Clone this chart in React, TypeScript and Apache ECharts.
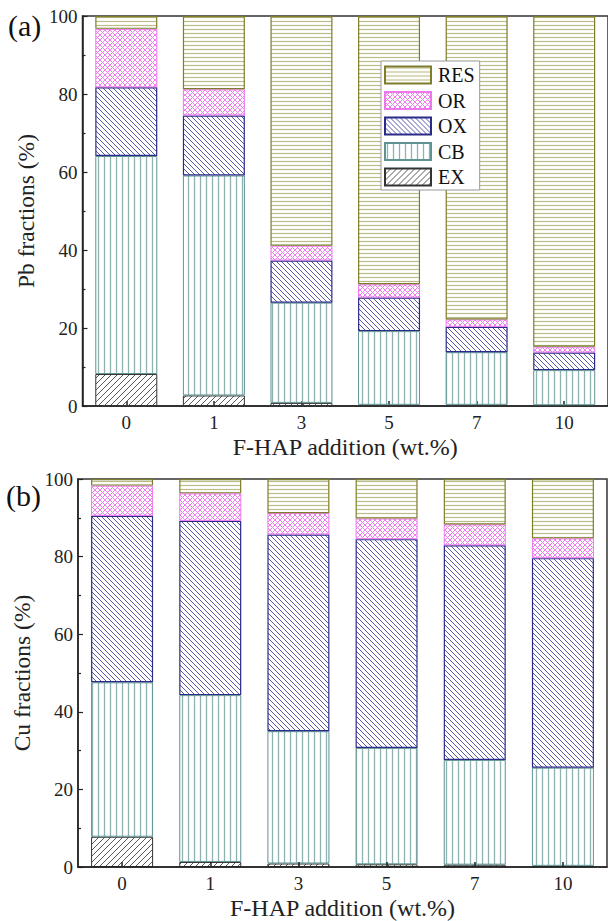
import React, { useEffect, useRef } from 'react';
import * as echarts from 'echarts';

const categories = ['0', '1', '3', '5', '7', '10'];
const legendOrder = ['RES', 'OR', 'OX', 'CB', 'EX'];

// Pb fractions (%)
const pbEX = [8.2, 2.7, 0.8, 0.3, 0.3, 0.2];
const pbCB = [55.9, 56.4, 25.7, 18.9, 13.5, 9.0];
const pbOX = [17.6, 15.4, 10.8, 8.6, 6.5, 4.5];
const pbOR = [15.0, 6.7, 3.8, 3.4, 1.9, 1.5];
const pbRES = [3.3, 18.8, 58.9, 68.8, 77.8, 84.8];

// Cu fractions (%)
const cuEX = [7.8, 1.3, 0.9, 0.7, 0.6, 0.3];
const cuCB = [39.8, 43.0, 34.1, 30.0, 27.0, 25.3];
const cuOX = [42.9, 44.9, 50.7, 53.8, 55.3, 54.0];
const cuOR = [7.8, 7.1, 5.5, 5.3, 5.4, 5.1];
const cuRES = [1.7, 3.7, 8.8, 10.2, 11.7, 15.3];

const FONT = "'Liberation Serif', 'Times New Roman', serif";

function makeTile(kind: string, size: number, color: string, lw: number) {
  const c = document.createElement('canvas');
  c.width = size;
  c.height = size;
  const g = c.getContext('2d')!;
  g.strokeStyle = color;
  g.lineWidth = lw;
  g.beginPath();
  if (kind === 'h') {
    g.moveTo(0, size / 2 - 0.5);
    g.lineTo(size, size / 2 - 0.5);
  }
  if (kind === 'v') {
    g.moveTo(size / 2 - 0.5, 0);
    g.lineTo(size / 2 - 0.5, size);
  }
  if (kind === 'fwd' || kind === 'x') {
    g.moveTo(0, size);
    g.lineTo(size, 0);
    g.moveTo(-size / 2, size / 2);
    g.lineTo(size / 2, -size / 2);
    g.moveTo(size / 2, size * 1.5);
    g.lineTo(size * 1.5, size / 2);
  }
  if (kind === 'back' || kind === 'x') {
    g.moveTo(0, 0);
    g.lineTo(size, size);
    g.moveTo(-size / 2, size / 2);
    g.lineTo(size / 2, size * 1.5);
    g.moveTo(size / 2, -size / 2);
    g.lineTo(size * 1.5, size / 2);
  }
  g.stroke();
  return { image: c.toDataURL(), repeat: 'repeat', imageWidth: size, imageHeight: size };
}

export default function App() {
  const ref = useRef<HTMLDivElement>(null);
  useEffect(() => {
    if (!ref.current) return;
    const chart = echarts.init(ref.current, null, { renderer: 'svg' });

    const styles: Record<string, any> = {
      EX: { color: makeTile('fwd', 6, '#5a5a5a', 1), borderColor: '#333333', borderWidth: 1 },
      CB: { color: makeTile('v', 6, '#8fb3b3', 1.3), borderColor: '#5f9393', borderWidth: 1 },
      OX: { color: makeTile('back', 5, '#5858a8', 1), borderColor: '#2b2b8a', borderWidth: 1.2 },
      OR: { color: makeTile('x', 5, '#f07cf0', 1), borderColor: '#ee77ee', borderWidth: 1 },
      RES: { color: makeTile('h', 4, '#bcbc88', 1.2), borderColor: '#7d7d2c', borderWidth: 1.2 },
    };

    const pb: Record<string, number[]> = { EX: pbEX, CB: pbCB, OX: pbOX, OR: pbOR, RES: pbRES };
    const cu: Record<string, number[]> = { EX: cuEX, CB: cuCB, OX: cuOX, OR: cuOR, RES: cuRES };
    const stackOrder = ['EX', 'CB', 'OX', 'OR', 'RES'];

    const series: any[] = [];
    stackOrder.forEach((k) => {
      series.push({
        name: k, type: 'bar', stack: 'pb', xAxisIndex: 0, yAxisIndex: 0,
        barWidth: 62, data: pb[k], itemStyle: styles[k],
      });
    });
    stackOrder.forEach((k) => {
      series.push({
        name: k, type: 'bar', stack: 'cu', xAxisIndex: 1, yAxisIndex: 1,
        barWidth: 62, data: cu[k], itemStyle: styles[k],
      });
    });

    const xAxisBase = (gridIndex: number, z: number) => ({
      type: 'category', gridIndex, data: categories, z,
      boundaryGap: true,
      axisLine: { lineStyle: { color: '#222', width: 1.5 } },
      axisTick: { show: true, inside: true, alignWithLabel: true, length: 5, lineStyle: { color: '#222', width: 1.5 } },
      axisLabel: { fontFamily: FONT, fontSize: 19, color: '#222', margin: 7 },
      name: 'F-HAP addition (wt.%)', nameLocation: 'middle', nameGap: 29,
      nameTextStyle: { fontFamily: FONT, fontSize: 24, color: '#222' },
      splitLine: { show: false },
    });

    const yAxisBase = (gridIndex: number, name: string, gap: number) => ({
      type: 'value', gridIndex, min: 0, max: 100, interval: 20,
      axisLine: { show: true, lineStyle: { color: '#222', width: 1.5 } },
      axisTick: { show: true, inside: true, length: 5, lineStyle: { color: '#222', width: 1.2 } },
      minorTick: { show: true, splitNumber: 2, length: 3, lineStyle: { color: '#222', width: 1.2 } },
      axisLabel: { fontFamily: FONT, fontSize: 19, color: '#222', margin: 5 },
      splitLine: { show: false },
      name, nameLocation: 'middle', nameGap: gap,
      nameTextStyle: { fontFamily: FONT, fontSize: 23.5, color: '#222' },
    });

    chart.setOption({
      animation: false,
      backgroundColor: '#fff',
      grid: [
        { left: 82.5, top: 16, width: 530, height: 390, show: true, borderColor: '#333', borderWidth: 1.5, backgroundColor: 'transparent' },
        { left: 78, top: 479, width: 529, height: 390, show: true, borderColor: '#333', borderWidth: 1.5, backgroundColor: 'transparent' },
      ],
      xAxis: [xAxisBase(0, 0), xAxisBase(1, 5)],
      yAxis: [yAxisBase(0, 'Pb fractions (%)', 44), yAxisBase(1, 'Cu fractions (%)', 42)],
      legend: {
        data: legendOrder,
        orient: 'vertical',
        left: 381, top: 61,
        itemWidth: 46, itemHeight: 17, itemGap: 5.5,
        padding: [4, 5, 3, 3],
        backgroundColor: '#fff', borderColor: '#999', borderWidth: 1,
        textStyle: { fontFamily: FONT, fontSize: 20, color: '#111', padding: [0, 0, 0, 2] },
        icon: 'rect',
        selectedMode: false,
      },
      graphic: [
        { type: 'text', left: 8, top: 10, style: { text: '(a)', font: `30px ${FONT}`, fill: '#111' } },
        { type: 'text', left: 6, top: 480, style: { text: '(b)', font: `30px ${FONT}`, fill: '#111' } },
      ],
      series,
    });

    return () => chart.dispose();
  }, []);

  return (
    <div
      ref={ref}
      style={{ position: 'fixed', left: 0, top: 0, width: 608, height: 921, background: '#fff' }}
    />
  );
}
